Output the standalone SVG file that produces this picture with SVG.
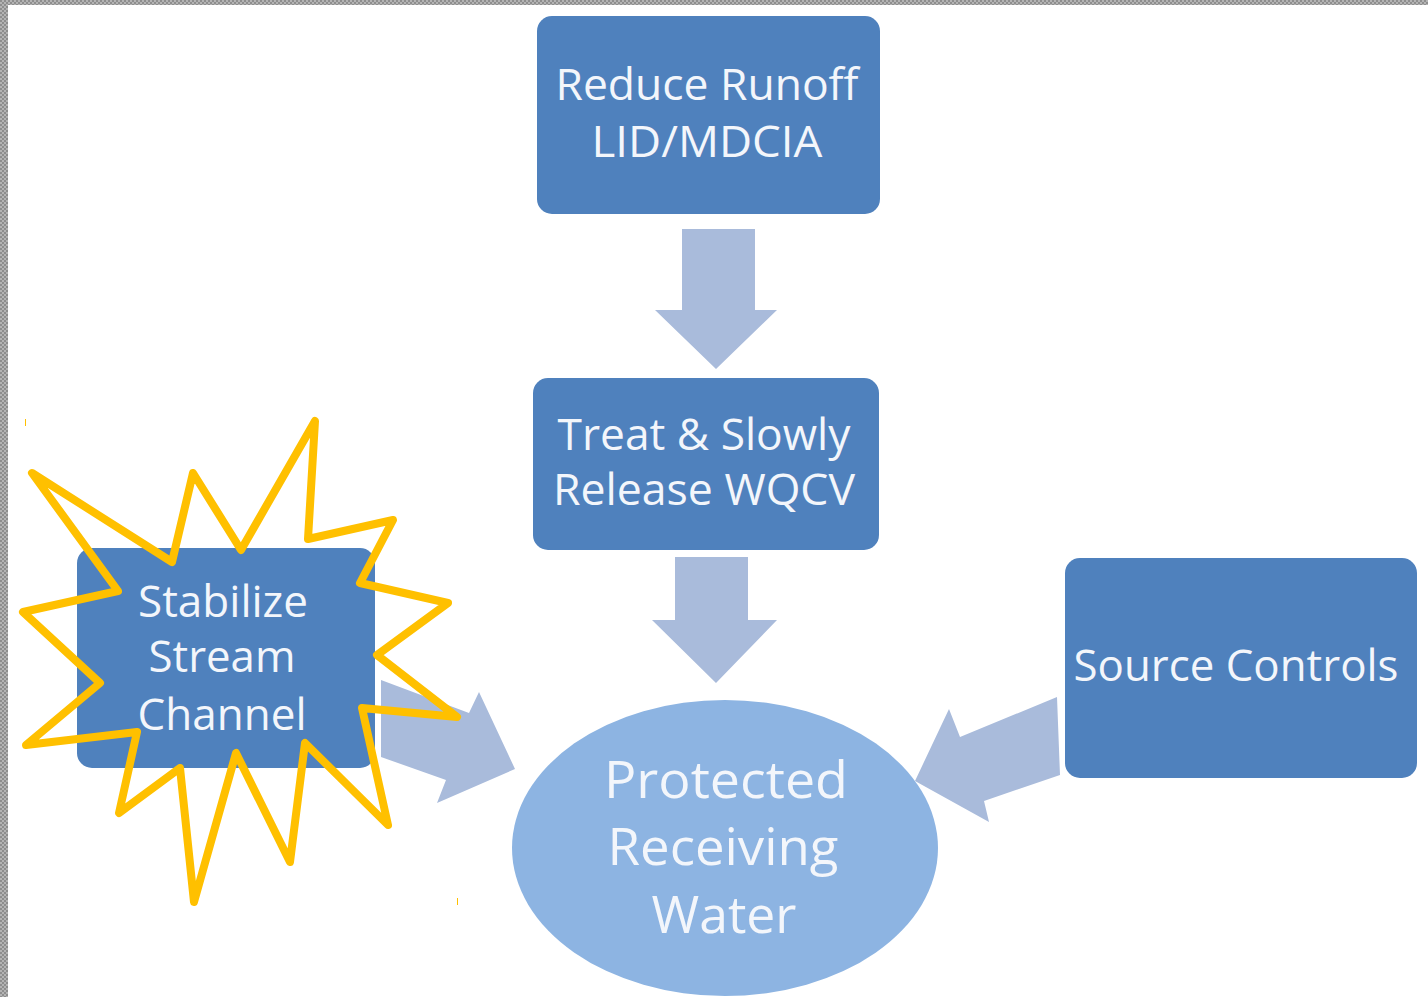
<svg xmlns="http://www.w3.org/2000/svg" width="1428" height="997" viewBox="0 0 1428 997">
  <defs>
    <pattern id="checker" width="4" height="4" patternUnits="userSpaceOnUse">
      <rect width="4" height="4" fill="#b4b4b4"/>
      <rect width="2" height="2" fill="#8e8e8e"/>
      <rect x="2" y="2" width="2" height="2" fill="#8e8e8e"/>
    </pattern>
  </defs>
  <style>
    .box { fill: #4f81bd; }
    .pool { fill: #8db4e2; }
    .flow { fill: #a9bbdb; }
    .label { font-family: "Open Sans", "Liberation Sans", sans-serif; fill: #f3f6fb; text-anchor: middle; }
    .burst { fill: none; stroke: #ffc000; stroke-width: 8; stroke-linejoin: round; stroke-linecap: round; }
    .tick { fill: #ffc000; }
  </style>

  <!-- page background with checkered edges -->
  <rect width="1428" height="997" fill="#ffffff"/>
  <rect x="0" y="0" width="1428" height="5" fill="url(#checker)"/>
  <rect x="0" y="0" width="8" height="997" fill="url(#checker)"/>

  <!-- connectors (block arrows) -->
  <g id="connectors">
    <polygon class="flow" points="682,229 755,229 755,310 777,310 716,369 655,310 682,310"/>
    <polygon class="flow" points="675,557 748,557 748,620 777,620 716,683 652,620 675,620"/>
    <polygon class="flow" points="381,680 469,713 479,692 515,769 437,803 446,780 381,757"/>
    <polygon class="flow" points="1057,697 960,737 949,709 915,781 989,822 984,801 1060,775"/>
  </g>

  <g id="reduce-runoff">
    <rect class="box" x="537" y="16" width="343" height="198" rx="15"/>
    <text class="label" x="707" y="100" font-size="44" textLength="303" lengthAdjust="spacingAndGlyphs">Reduce Runoff</text>
    <text class="label" x="707" y="157" font-size="44" textLength="231" lengthAdjust="spacingAndGlyphs">LID/MDCIA</text>
  </g>

  <g id="treat-release">
    <rect class="box" x="533" y="378" width="346" height="172" rx="15"/>
    <text class="label" x="704" y="450" font-size="44" textLength="293" lengthAdjust="spacingAndGlyphs">Treat &amp; Slowly</text>
    <text class="label" x="704" y="505" font-size="44" textLength="302" lengthAdjust="spacingAndGlyphs">Release WQCV</text>
  </g>

  <g id="source-controls">
    <rect class="box" x="1065" y="558" width="352" height="220" rx="15"/>
    <text class="label" x="1236" y="681" font-size="44" textLength="325" lengthAdjust="spacingAndGlyphs">Source Controls</text>
  </g>

  <g id="receiving-water">
    <ellipse class="pool" cx="725" cy="848" rx="213" ry="148"/>
    <text class="label" x="726" y="798" font-size="52" textLength="244" lengthAdjust="spacingAndGlyphs">Protected</text>
    <text class="label" x="723" y="865" font-size="52" textLength="231" lengthAdjust="spacingAndGlyphs">Receiving</text>
    <text class="label" x="724" y="933" font-size="52" textLength="145" lengthAdjust="spacingAndGlyphs">Water</text>
  </g>

  <g id="stabilize-channel">
    <rect class="box" x="77" y="548" width="298" height="220" rx="15"/>
    <text class="label" x="223" y="617" font-size="44" textLength="170" lengthAdjust="spacingAndGlyphs">Stabilize</text>
    <text class="label" x="222" y="672" font-size="44" textLength="147" lengthAdjust="spacingAndGlyphs">Stream</text>
    <text class="label" x="222" y="730" font-size="44" textLength="169" lengthAdjust="spacingAndGlyphs">Channel</text>
  </g>

  <!-- highlight starburst -->
  <g id="highlight">
    <polygon class="burst" points="315,421 308,539 393,520 360,583 448,603 377,655 457,717 362,708 388,825 305,743 290,862 236,753 194,902 180,768 119,813 137,732 26,745 100,683 23,612 118,591 32,473 172,562 193,473 241,550"/>
    <rect class="tick" x="25" y="419" width="1" height="7"/>
    <rect class="tick" x="457" y="898" width="1" height="7"/>
  </g>
</svg>
